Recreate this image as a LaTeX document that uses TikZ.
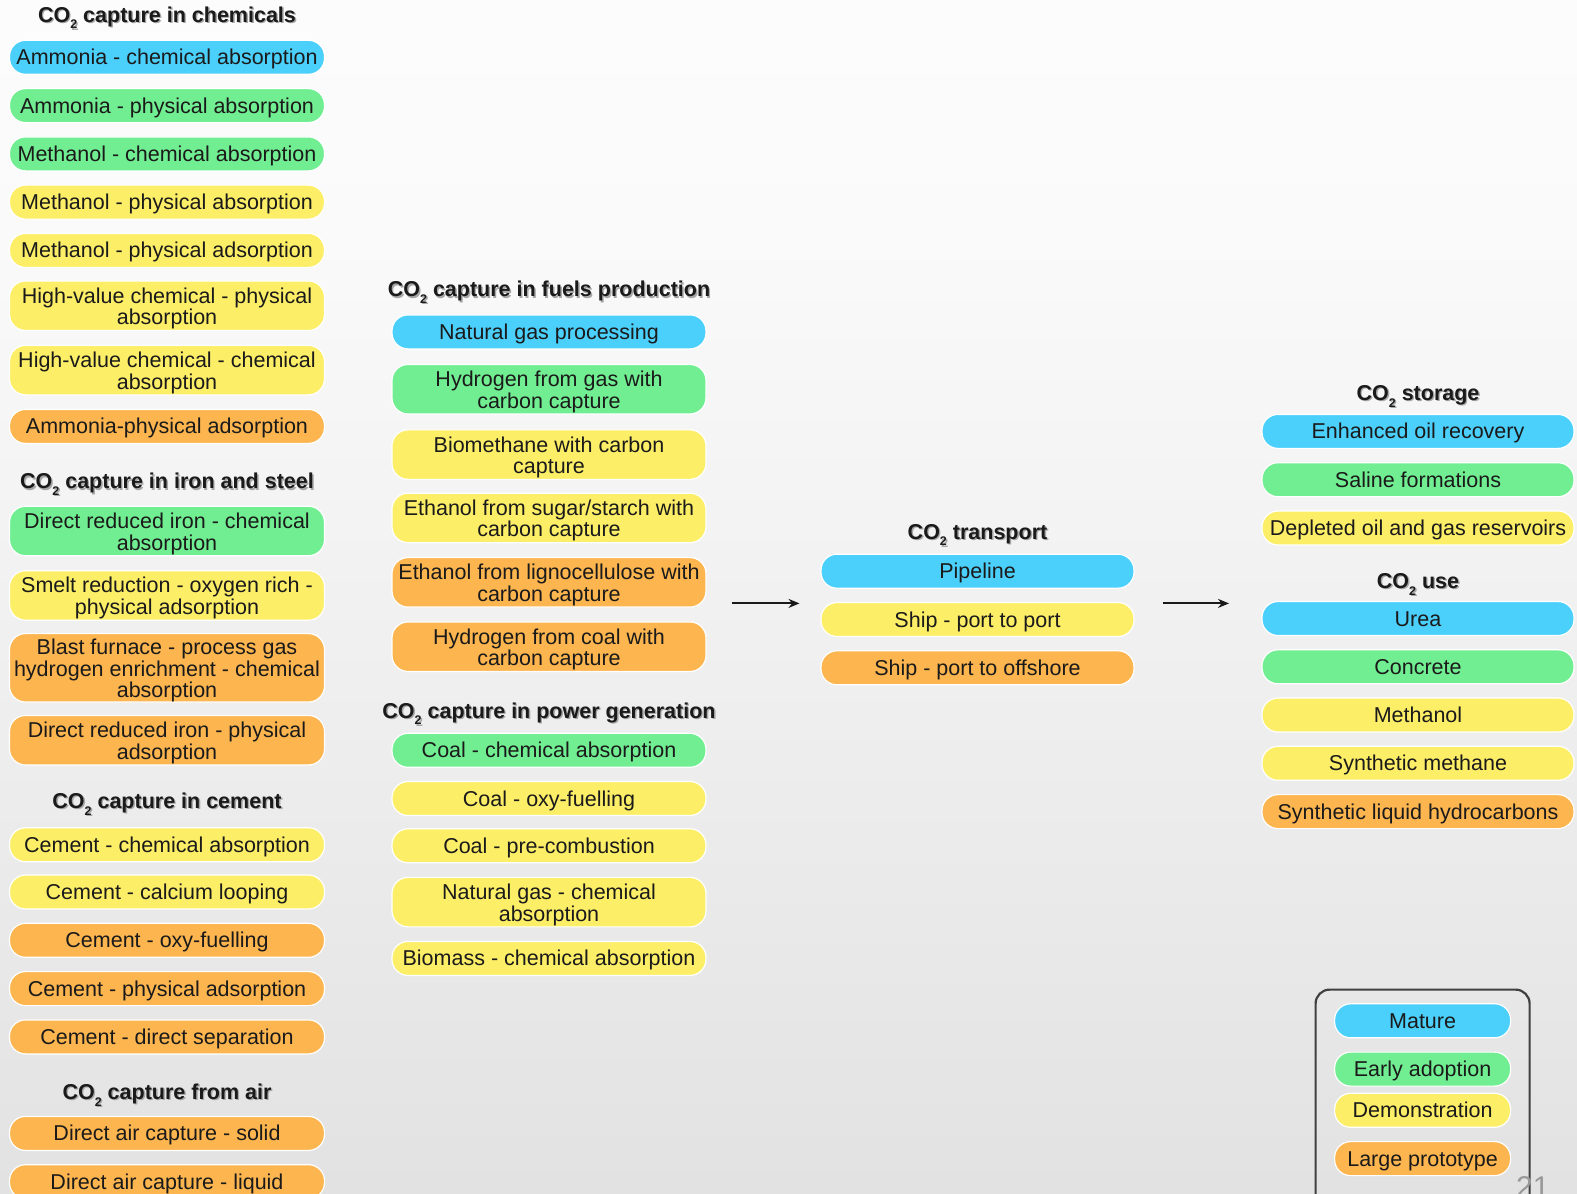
\documentclass[tikz,border=0pt]{standalone}
\usepackage{fontspec}
\setmainfont{Liberation Sans}
\usetikzlibrary{arrows.meta}

% readiness-level colours
\definecolor{mature}{HTML}{4BCFFB}
\definecolor{early}{HTML}{72EE92}
\definecolor{demo}{HTML}{FDEE68}
\definecolor{proto}{HTML}{FCB54F}
\definecolor{ink}{HTML}{1A1A1A}
\definecolor{bgA}{HTML}{D2D2D2}
\definecolor{bgB}{HTML}{E7E7E7}
\definecolor{bgC}{HTML}{FAFAFA}
\definecolor{bgD}{HTML}{FFFFFF}
\definecolor{bgE}{HTML}{E4E4E4}

% slide background, bottom to top
\pgfdeclareverticalshading{slidebg}{100bp}{%
  color(0bp)=(bgA); color(33bp)=(bgB); color(65bp)=(bgC);
  color(88bp)=(bgD); color(100bp)=(bgE)}

% low, small subscript two for CO2
\newcommand\subtwo{\raisebox{-0.32em}{\fontsize{12.5}{12.5}\selectfont 2}}
% strut that lowers the first line of a wrapped label
\newcommand\topstrut{\rule{0pt}{21pt}}

\newcommand\hd[4]{%
  \node[hdshade] (#1s) at (#2+1.4,#3+1.4) {#4};
  \node[hd] (#1) at (#2,#3) {#4};}

\begin{document}
\begin{tikzpicture}[x=1pt,y=-1pt,
  box/.style={rounded corners=16, draw=white, line width=1.2,
    align=center, inner sep=0pt, text=ink,
    font=\fontsize{21.5}{21.5}\selectfont},
  one/.style={box, minimum height=34, text height=18, text depth=3},
  two/.style={box, minimum height=49.5},
  three/.style={box, minimum height=67.5},
  wA/.style={minimum width=315},
  wB/.style={minimum width=314},
  wC/.style={minimum width=313},
  wD/.style={minimum width=312},
  wL/.style={minimum width=176},
  hd/.style={font=\fontsize{21.5}{21.5}\selectfont\bfseries, text=ink,
    inner sep=0pt, text height=17.5, text depth=3.5},
  hdshade/.style={hd, text=black!35},
  flow/.style={-{Stealth[length=11,width=9]}, line width=2, draw=ink},
  frame/.style={rounded corners=14, draw=black!75, line width=2.2,
    minimum width=214, minimum height=240, inner sep=0pt}
]
\useasboundingbox (0,0) rectangle (1577,1194);
\shade[shading=slidebg] (0,0) rectangle (1577,1194);

% ---------- capture: chemicals ----------
\hd{hChem}{167}{15}{CO\subtwo{} capture in chemicals}
\node[one,wA,fill=mature] (c1) at (167,57.3) {Ammonia - chemical absorption};
\node[one,wA,fill=early]  (c2) at (167,105.6) {Ammonia - physical absorption};
\node[one,wA,fill=early]  (c3) at (167,153.9) {Methanol - chemical absorption};
\node[one,wA,fill=demo]   (c4) at (167,202.1) {Methanol - physical absorption};
\node[one,wA,fill=demo]   (c5) at (167,250.4) {Methanol - physical adsorption};
\node[two,wA,fill=demo]   (c6) at (167,305.7) {\topstrut High-value chemical - physical\\absorption};
\node[two,wA,fill=demo]   (c7) at (167,370.1) {\topstrut High-value chemical - chemical\\absorption};
\node[one,wA,fill=proto]  (c8) at (167,426.4) {Ammonia-physical adsorption};

% ---------- capture: iron and steel ----------
\hd{hIron}{167}{481.7}{CO\subtwo{} capture in iron and steel}
\node[two,wA,fill=early]  (i1) at (167,531) {\topstrut Direct reduced iron - chemical\\absorption};
\node[two,wA,fill=demo]   (i2) at (167,595.4) {\topstrut Smelt reduction - oxygen rich -\\physical adsorption};
\node[three,wA,fill=proto](i3) at (167,667.8) {\topstrut Blast furnace - process gas\\hydrogen enrichment - chemical\\absorption};
\node[two,wA,fill=proto]  (i4) at (167,740.2) {\topstrut Direct reduced iron - physical\\adsorption};

% ---------- capture: cement ----------
\hd{hCem}{167}{801.5}{CO\subtwo{} capture in cement}
\node[one,wA,fill=demo]   (m1) at (167,844.8) {Cement - chemical absorption};
\node[one,wA,fill=demo]   (m2) at (167,892) {Cement - calcium looping};
\node[one,wA,fill=proto]  (m3) at (167,940.3) {Cement - oxy-fuelling};
\node[one,wA,fill=proto]  (m4) at (167,988.6) {Cement - physical adsorption};
\node[one,wA,fill=proto]  (m5) at (167,1036.9) {Cement - direct separation};

% ---------- capture: air ----------
\hd{hAir}{167}{1092.2}{CO\subtwo{} capture from air}
\node[one,wA,fill=proto]  (a1) at (167,1133.4) {Direct air capture - solid};
\node[one,wA,fill=proto]  (a2) at (167,1181.7) {Direct air capture - liquid};

% ---------- capture: fuels production ----------
\hd{hFuel}{549}{289.6}{CO\subtwo{} capture in fuels production}
\node[one,wB,fill=mature] (f1) at (549,331.9) {Natural gas processing};
\node[two,wB,fill=early]  (f2) at (549,389.2) {\topstrut Hydrogen from gas with\\carbon capture};
\node[two,wB,fill=demo]   (f3) at (549,454.6) {\topstrut Biomethane with carbon\\capture};
\node[two,wB,fill=demo]   (f4) at (549,517.9) {\topstrut Ethanol from sugar/starch with\\carbon capture};
\node[two,wB,fill=proto]  (f5) at (549,582.3) {\topstrut Ethanol from lignocellulose with\\carbon capture};
\node[two,wB,fill=proto]  (f6) at (549,646.7) {\topstrut Hydrogen from coal with\\carbon capture};

% ---------- capture: power generation ----------
\hd{hPow}{549}{711}{CO\subtwo{} capture in power generation}
\node[one,wB,fill=early]  (p1) at (549,750.3) {Coal - chemical absorption};
\node[one,wB,fill=demo]   (p2) at (549,798.5) {Coal - oxy-fuelling};
\node[one,wB,fill=demo]   (p3) at (549,845.8) {Coal - pre-combustion};
\node[two,wB,fill=demo]   (p4) at (549,902.1) {\topstrut Natural gas - chemical\\absorption};
\node[one,wB,fill=demo]   (p5) at (549,958.4) {Biomass - chemical absorption};

% ---------- transport ----------
\hd{hTr}{977.5}{532}{CO\subtwo{} transport}
\node[one,wC,fill=mature] (t1) at (977.5,571.2) {Pipeline};
\node[one,wC,fill=demo]   (t2) at (977.5,619.5) {Ship - port to port};
\node[one,wC,fill=proto]  (t3) at (977.5,667.8) {Ship - port to offshore};

% ---------- storage ----------
\hd{hSt}{1418}{393.2}{CO\subtwo{} storage}
\node[one,wD,fill=mature] (s1) at (1418,431.4) {Enhanced oil recovery};
\node[one,wD,fill=early]  (s2) at (1418,479.7) {Saline formations};
\node[one,wD,fill=demo]   (s3) at (1418,528) {Depleted oil and gas reservoirs};

% ---------- use ----------
\hd{hUse}{1418}{581.3}{CO\subtwo{} use}
\node[one,wD,fill=mature] (u1) at (1418,618.5) {Urea};
\node[one,wD,fill=early]  (u2) at (1418,666.8) {Concrete};
\node[one,wD,fill=demo]   (u3) at (1418,715) {Methanol};
\node[one,wD,fill=demo]   (u4) at (1418,763.3) {Synthetic methane};
\node[one,wD,fill=proto]  (u5) at (1418,811.6) {Synthetic liquid hydrocarbons};

% ---------- flow arrows ----------
\coordinate (capOut) at (732,603.4);
\coordinate (trIn)   at (799.5,603.4);
\coordinate (trOut)  at (1162.6,603.4);
\coordinate (endIn)  at (1229,603.4);
\draw[flow] (capOut) -- (trIn);
\draw[flow] (trOut) -- (endIn);

% ---------- legend ----------
\node[frame] (legend) at (1422.6,1109.6) {};
\node[one,wL,fill=mature] (l1) at (1422.6,1020.8) {Mature};
\node[one,wL,fill=early]  (l2) at (1422.6,1069.1) {Early adoption};
\node[one,wL,fill=demo]   (l3) at (1422.6,1110.3) {Demonstration};
\node[one,wL,fill=proto]  (l4) at (1422.6,1158.6) {Large prototype};

% slide number
\node[font=\fontsize{30}{30}\selectfont, text=black!40, anchor=north west, inner sep=0pt]
  (pageno) at (1516,1176) {21};
\end{tikzpicture}
\end{document}
